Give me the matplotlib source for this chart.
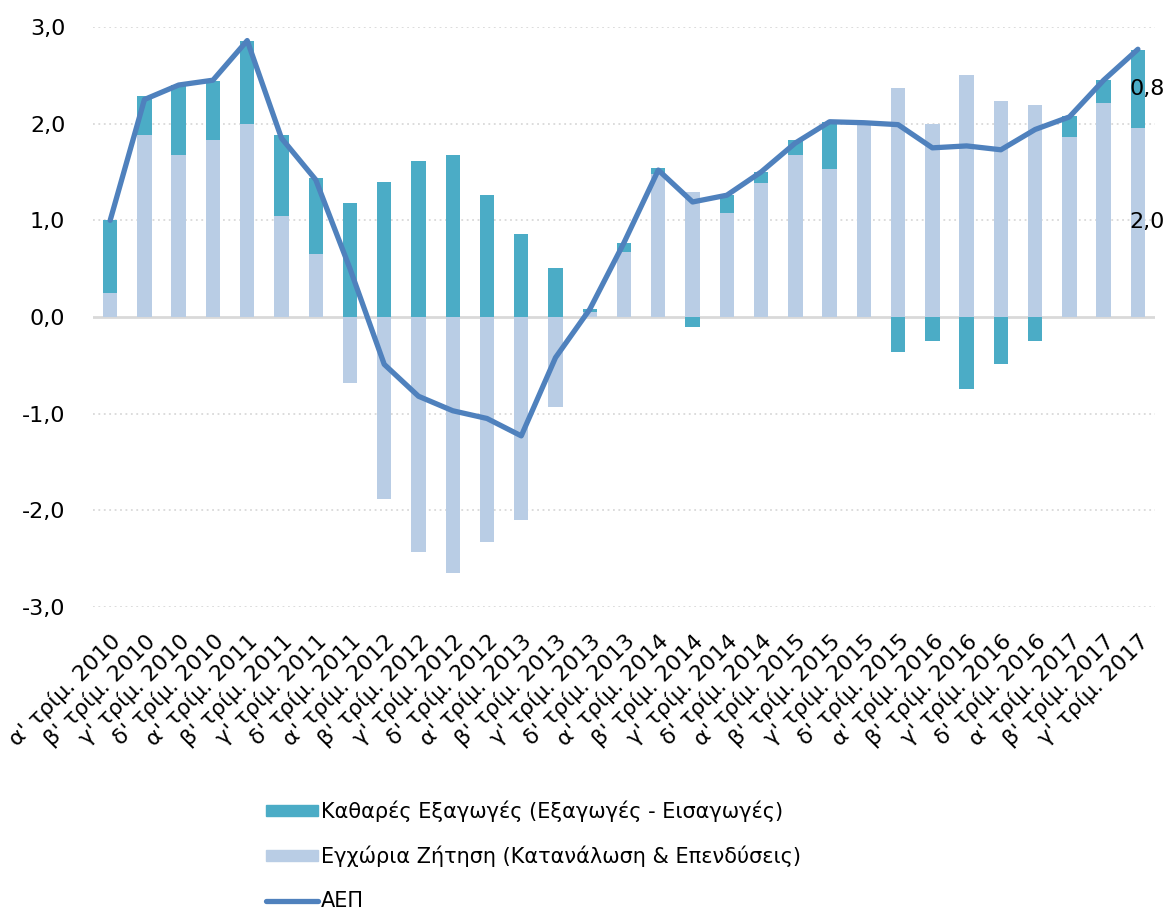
"""Greek GDP growth contributions: net exports vs domestic demand, 2010-2017."""

import matplotlib

matplotlib.use("Agg")
import matplotlib.pyplot as plt
import numpy as np
from matplotlib.lines import Line2D
from matplotlib.patches import Patch


QUARTERS = ["α'", "β'", "γ'", "δ'"]
YEARS = [2010, 2011, 2012, 2013, 2014, 2015, 2016, 2017]
labels = [f"{q} τρίμ. {y}" for y in YEARS for q in QUARTERS][:31]

domestic_demand = [
    0.25, 1.88, 1.68, 1.83, 2.00, 1.04, 0.65, -0.68,
    -1.88, -2.43, -2.65, -2.33, -2.10, -0.93, 0.05, 0.67,
    1.48, 1.29, 1.08, 1.39, 1.68, 1.53, 2.00, 2.37,
    2.00, 2.50, 2.23, 2.19, 1.86, 2.21, 1.96,
]
net_exports = [
    0.75, 0.41, 0.72, 0.61, 0.86, 0.84, 0.79, 1.18,
    1.40, 1.61, 1.68, 1.26, 0.86, 0.51, 0.03, 0.10,
    0.06, -0.10, 0.18, 0.11, 0.15, 0.49, 0.01, -0.36,
    -0.25, -0.74, -0.49, -0.25, 0.22, 0.24, 0.80,
]
gdp = [
    1.00, 2.25, 2.40, 2.45, 2.86, 1.85, 1.42, 0.50,
    -0.49, -0.82, -0.97, -1.05, -1.23, -0.42, 0.08, 0.77,
    1.52, 1.19, 1.26, 1.50, 1.80, 2.02, 2.01, 1.99,
    1.75, 1.77, 1.73, 1.94, 2.07, 2.45, 2.77,
]

TEAL = "#4BACC6"
LIGHT = "#B9CDE5"
LINE = "#4F81BD"
GRID = "#D9D9D9"


def fmt(v):
    return f"{v:.1f}".replace(".", ",")


def main() -> None:
    plt.rcParams["font.family"] = ["DejaVu Sans"]
    fig = plt.figure(figsize=(11.66, 9.13), dpi=100)
    ax = fig.add_axes([0.0798, 0.3352, 0.9108, 0.6352])

    x = np.arange(len(labels))
    dd = np.array(domestic_demand)
    nx = np.array(net_exports)
    width = 0.42

    # Excel-style stacking: positives stack on positives, negatives on negatives
    dd_base = np.zeros_like(dd)
    nx_base = np.where(np.sign(nx) == np.sign(dd), dd, 0.0)

    ax.bar(x, dd, width, bottom=dd_base, color=LIGHT, zorder=2)
    ax.bar(x, nx, width, bottom=nx_base, color=TEAL, zorder=2)
    ax.plot(x, gdp, color=LINE, linewidth=3.8, zorder=4, solid_capstyle="round")

    for v in (-3, -2, -1, 1, 2, 3):
        ax.axhline(v, color=GRID, linestyle=(0, (1, 2)), linewidth=1.3, zorder=0)
    ax.axhline(0, color=GRID, linewidth=2, zorder=1)

    last = len(x) - 1
    ax.text(last + 0.27, nx_base[last] + nx[last] / 2, fmt(nx[last]),
            ha="center", va="center", fontsize=16, clip_on=False, zorder=5)
    ax.text(last + 0.27, dd[last] / 2, fmt(dd[last]),
            ha="center", va="center", fontsize=16, clip_on=False, zorder=5)

    ax.set_xlim(-0.5, len(x) - 0.5)
    ax.set_ylim(-3, 3)
    ax.set_yticks([-3, -2, -1, 0, 1, 2, 3])
    ax.set_yticklabels([fmt(v) for v in (-3, -2, -1, 0, 1, 2, 3)], fontsize=16)
    ax.tick_params(axis="y", length=0, pad=20)
    ax.set_xticks(x)
    ax.set_xticklabels(labels, rotation=45, ha="right", rotation_mode="anchor", fontsize=16)
    ax.tick_params(axis="x", length=0, pad=17)
    for spine in ax.spines.values():
        spine.set_visible(False)

    handles = [
        Patch(color=TEAL, label="Καθαρές Εξαγωγές (Εξαγωγές - Εισαγωγές)"),
        Patch(color=LIGHT, label="Εγχώρια Ζήτηση (Κατανάλωση & Επενδύσεις)"),
        Line2D([], [], color=LINE, linewidth=3.8, solid_capstyle="round", label="ΑΕΠ"),
    ]
    fig.legend(handles=handles, loc="upper left", bbox_to_anchor=(0.219, 0.135),
               frameon=False, fontsize=15, handlelength=2.5, handleheight=0.45,
               handletextpad=0.15, labelspacing=1.15, borderpad=0)

    fig.savefig("out.png", dpi=100)
    plt.close(fig)


if __name__ == "__main__":
    main()
